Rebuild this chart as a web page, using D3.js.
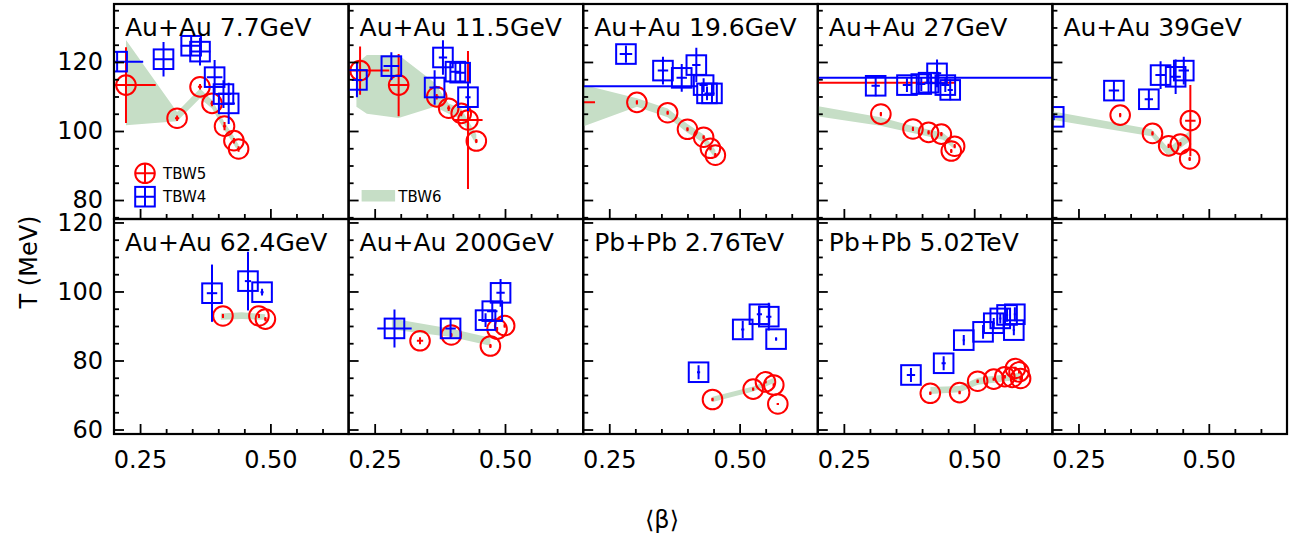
<!DOCTYPE html>
<html>
<head>
<meta charset="utf-8">
<script src="https://cdn.jsdelivr.net/npm/d3@7"></script>
<style>
body{margin:0;background:#fff}
text{font-family:"DejaVu Sans",sans-serif}
</style>
</head>
<body>
<div id="chart"></div>
<script>
// panel titles
var titles = ["Au+Au 7.7GeV","Au+Au 11.5GeV","Au+Au 19.6GeV","Au+Au 27GeV","Au+Au 39GeV",
              "Au+Au 62.4GeV","Au+Au 200GeV","Pb+Pb 2.76TeV","Pb+Pb 5.02TeV",""];

// TBW5 (red circles)
var tbw5Beta = [
  [0.223,0.321,0.365,0.388,0.412,0.430,0.439],
  [0.222,0.296,0.369,0.392,0.416,0.429,0.445],
  [0.10,0.303,0.362,0.400,0.431,0.444,0.4535],
  [0.10,0.321,0.3825,0.4125,0.437,0.456,0.4625],
  [0.330,0.392,0.423,0.4454,0.4633,0.4646],
  [0.409,0.478,0.4904],
  [0.337,0.397,0.472,0.4848,0.4994],
  [0.448,0.526,0.5496,0.5656,0.5733],
  [0.4158,0.472,0.5066,0.5375,0.5587,0.573,0.579,0.586,0.589],
  []
];
var tbw5T = [
  [113.3,103.7,112.8,108.0,101.4,97.2,94.8],
  [117.5,113.3,109.9,106.6,105.1,103.2,97.1],
  [108.3,108.3,105.3,100.5,98.2,95.0,93.0],
  [114.0,104.9,100.6,99.6,99.1,94.2,95.6],
  [104.6,99.3,95.7,96.2,91.9,103.0],
  [92.9,92.9,92.0],
  [85.7,87.4,84.2,89.1,90.1],
  [68.7,71.7,73.8,72.9,67.4],
  [70.5,70.7,74.0,74.6,75.3,75.1,77.7,76.7,74.8],
  []
];
var tbw5Xerr = [
  [0.057,0.004,0.004,0.003,0.003,0.003,0.003],
  [0.056,0.02,0.004,0.003,0.003,0.028,0.002],
  [0.1227,0.002,0.002,0.002,0.002,0.002,0.002],
  [0.364,0.002,0.002,0.002,0.002,0.002,0.002],
  [0.002,0.002,0.002,0.002,0.002,0.01],
  [0.002,0.002,0.002],
  [0.006,0.002,0.002,0.002,0.002],
  [0.002,0.002,0.002,0.002,0.002],
  [0.002,0.002,0.002,0.002,0.002,0.002,0.002,0.002,0.002],
  []
];
var tbw5Yerr = [
  [11,0.8,0.8,0.8,1.2,0.8,0.8],
  [7,9,0.8,0.8,0.8,20,0.6],
  [0,0.6,0.6,0.6,0.6,0.6,0.6],
  [0,0.6,0.6,0.6,0.6,0.6,0.6],
  [0.6,0.6,0.6,0.6,0.6,10.3],
  [0.6,0.6,0.6],
  [1,0.6,0.6,0.6,0.6],
  [0.5,0.5,0.5,0.5,0.3],
  [0.5,0.5,0.5,0.5,0.5,0.5,0.5,0.5,0.5],
  []
];

// TBW4 (blue squares)
var tbw4Beta = [
  [0.206,0.295,0.348,0.365,0.393,0.410,0.420],
  [0.216,0.282,0.381,0.365,0.405,0.414,0.429],
  [0.10,0.282,0.353,0.389,0.417,0.431,0.4375,0.447],
  [0.10,0.311,0.371,0.3985,0.4125,0.4287,0.4446,0.454],
  [0.2026,0.318,0.385,0.4075,0.4364,0.452],
  [0.388,0.457,0.484],
  [0.288,0.3956,0.4627,0.4756,0.4915],
  [0.4213,0.506,0.538,0.556,0.570],
  [0.3787,0.4414,0.48,0.517,0.5375,0.550,0.563,0.578,0.576],
  []
];
var tbw4T = [
  [120.1,120.8,124.7,123.0,115.6,110.7,108.0],
  [114.8,118.8,121.3,112.6,117.2,116.9,109.8],
  [113.0,122.3,117.5,115.4,119.1,113.3,110.9,110.9],
  [115.4,113.1,113.3,113.6,114.0,116.7,113.3,111.9],
  [104.1,111.7,109.2,116.2,115.7,117.5],
  [99.5,103.0,99.8],
  [89.3,89.3,91.7,94.3,99.6],
  [76.6,89.0,93.4,92.7,86.2],
  [75.8,79.2,85.9,88.3,90.8,92.2,93.2,93.4,88.8],
  []
];
var tbw4Xerr = [
  [0.05,0.02,0.02,0.02,0.015,0.015,0.012],
  [0.01,0.015,0.008,0.01,0.01,0.01,0.005],
  [0.32,0.012,0.01,0.01,0.008,0.008,0.005,0.005],
  [0.6,0.008,0.008,0.008,0.008,0.008,0.008,0.005],
  [0.018,0.01,0.008,0.01,0.01,0.01],
  [0.01,0.006,0.003],
  [0.033,0.01,0.014,0.01,0.008],
  [0.003,0.003,0.005,0.005,0.002],
  [0.008,0.004,0.002,0.002,0.002,0.002,0.002,0.002,0.002],
  []
];
var tbw4Yerr = [
  [3,5,3,4,5,4,6],
  [5,4,5,5,3,3,4],
  [0,2.5,4,4,5,2,2,3],
  [0,3,2,2,3,4,2,3],
  [1,3,3,4,5,4],
  [8.3,8.5,1],
  [5.5,3,2,3,4],
  [2,2.5,2.5,4,0.5],
  [2,2,1.5,2,1.5,1.5,2,2,1.5],
  []
];

// TBW6 (green band)
var tbw6Beta = [
  [0.223,0.321,0.365,0.388,0.412,0.430,0.439],
  [0.215,0.235,0.296,0.365,0.392,0.416,0.445],
  [0.19,0.303,0.362,0.400,0.431,0.4535],
  [0.19,0.32,0.38,0.44,0.46],
  [0.19,0.39,0.423,0.463],
  [0.405,0.445,0.49],
  [0.283,0.397,0.472],
  [0.448,0.526,0.566],
  [0.416,0.472,0.507,0.589],
  []
];
var tbw6Lo = [
  [101.7,102.8,109.5,106.5,100.2,96.0,93.8],
  [107,105,103.8,107,105,103.5,96],
  [100.8,107,104,99.5,96.5,92],
  [104.5,101.5,99.5,97.5,95],
  [103.5,98.5,92.5,97],
  [91.8,92.0,91.8],
  [89.0,86.8,84.3],
  [68,71,73.5],
  [70.3,70.8,73,74.5],
  []
];
var tbw6Hi = [
  [126.4,105.5,112.3,109.0,102.5,98.4,96.0],
  [119.5,122,122,114,108,106.5,99],
  [113.8,109.5,106.5,102,99,94.5],
  [107.5,104,101.5,99.5,97],
  [106,100.5,95,100],
  [93.6,94.0,93.4],
  [92.2,89.2,86.6],
  [69.5,72.5,75],
  [72.3,72.6,75,76.5],
  []
];

var xTicks = [0.25, 0.50];
var yTicksTop = [80, 100, 120];
var yTicksBottom = [60, 80, 100, 120];

var width = 1294, height = 537;
var left = 114, top0 = 4, pw = 234.6, ph = 215;
var red = "#ff0000", blue = "#0000ff", green = "#c6dec6";
var r = 9.8;

var svg = d3.select("#chart").append("svg")
  .attr("width", width)
  .attr("height", height);

var x = d3.scaleLinear().domain([0.2, 0.65]).range([0, pw]);
var yTop = d3.scaleLinear().domain([74.5, 136.8]).range([ph, 0]);
var yBot = d3.scaleLinear().domain([58.7, 121.0]).range([ph, 0]);

function drawSeries(g, y, bx, ty, ex, ey, color, shape) {
  var pts = d3.range(bx.length).map(function(k){
    return {b: bx[k], t: ty[k], ex: ex[k], ey: ey[k]};
  });
  var s = g.append("g").attr("stroke", color).attr("stroke-width", 2).attr("fill", "none");
  s.selectAll(".ex").data(pts).enter().append("line")
    .attr("x1", function(d){ return x(d.b - d.ex); })
    .attr("x2", function(d){ return x(d.b + d.ex); })
    .attr("y1", function(d){ return y(d.t); })
    .attr("y2", function(d){ return y(d.t); });
  s.selectAll(".ey").data(pts.filter(function(d){ return d.ey > 0; })).enter().append("line")
    .attr("x1", function(d){ return x(d.b); })
    .attr("x2", function(d){ return x(d.b); })
    .attr("y1", function(d){ return y(d.t - d.ey); })
    .attr("y2", function(d){ return y(d.t + d.ey); });
  if (shape == "circle") {
    s.selectAll("circle").data(pts).enter().append("circle")
      .attr("cx", function(d){ return x(d.b); })
      .attr("cy", function(d){ return y(d.t); })
      .attr("r", r);
  } else {
    s.selectAll("rect").data(pts).enter().append("rect")
      .attr("x", function(d){ return x(d.b) - r; })
      .attr("y", function(d){ return y(d.t) - r; })
      .attr("width", 2 * r)
      .attr("height", 2 * r);
  }
}

titles.forEach(function(t, i){
  var row = Math.floor(i / 5), col = i % 5;
  var y = row == 0 ? yTop : yBot;
  var g = svg.append("g")
    .attr("transform", "translate(" + (left + col * pw) + "," + (top0 + row * ph) + ")");

  g.append("clipPath").attr("id", "clip" + i)
    .append("rect").attr("width", pw).attr("height", ph);
  var plot = g.append("g").attr("clip-path", "url(#clip" + i + ")");

  if (tbw6Beta[i].length) {
    var area = d3.area()
      .x(function(d){ return x(d[0]); })
      .y0(function(d){ return y(d[1]); })
      .y1(function(d){ return y(d[2]); });
    plot.append("path")
      .datum(d3.zip(tbw6Beta[i], tbw6Lo[i], tbw6Hi[i]))
      .attr("d", area)
      .attr("fill", green);
  }

  drawSeries(plot, y, tbw5Beta[i], tbw5T[i], tbw5Xerr[i], tbw5Yerr[i], red, "circle");
  drawSeries(plot, y, tbw4Beta[i], tbw4T[i], tbw4Xerr[i], tbw4Yerr[i], blue, "square");

  // x axis (ticks pointing in)
  var xa = d3.axisBottom(x).tickValues(xTicks).tickSizeInner(-10).tickSizeOuter(0)
    .tickPadding(17).tickFormat(row == 1 ? d3.format(".2f") : "");
  var xm = d3.axisBottom(x).tickValues(d3.range(0.3, 0.64, 0.05).filter(function(v){ return Math.abs(v - 0.5) > 0.01; }))
    .tickSizeInner(-5).tickSizeOuter(0).tickFormat("");
  g.append("g").attr("transform", "translate(0," + ph + ")").call(xa)
    .call(function(a){ a.select(".domain").remove(); a.selectAll("text").attr("font-size", 24).attr("fill", "#000").style("font-family", "DejaVu Sans"); });
  g.append("g").attr("transform", "translate(0," + ph + ")").call(xm)
    .call(function(a){ a.select(".domain").remove(); });

  // y axis
  var yt = row == 0 ? yTicksTop : yTicksBottom;
  var ya = d3.axisLeft(y).tickValues(yt).tickSizeInner(-10).tickSizeOuter(0)
    .tickPadding(11).tickFormat(col == 0 ? d3.format("d") : "");
  var minors = d3.range(Math.ceil(y.domain()[0] / 5) * 5, y.domain()[1], 5)
    .filter(function(v){ return v % 20 != 0; });
  var ym = d3.axisLeft(y).tickValues(minors).tickSizeInner(-5).tickSizeOuter(0).tickFormat("");
  g.append("g").call(ya)
    .call(function(a){ a.select(".domain").remove(); a.selectAll("text").attr("font-size", 24).attr("fill", "#000").style("font-family", "DejaVu Sans"); });
  g.append("g").call(ym)
    .call(function(a){ a.select(".domain").remove(); });
  g.selectAll(".tick line").attr("stroke", "#000").attr("stroke-width", 1.8);

  g.append("rect").attr("width", pw).attr("height", ph)
    .attr("fill", "none").attr("stroke", "#000").attr("stroke-width", 2.2);

  g.append("text").attr("x", 11).attr("y", 32).attr("font-size", 25).text(t);
});

// legends
var lg0 = svg.append("g").attr("transform", "translate(" + left + "," + top0 + ")");
lg0.append("circle").attr("cx", 31).attr("cy", 169.3).attr("r", r)
  .attr("fill", "none").attr("stroke", red).attr("stroke-width", 2);
lg0.append("path").attr("d", "M21,169.3H41M31,159.3V179.3").attr("stroke", red).attr("stroke-width", 2);
lg0.append("text").attr("x", 49).attr("y", 174.5).attr("font-size", 15).text("TBW5");
lg0.append("rect").attr("x", 31 - r).attr("y", 192.7 - r).attr("width", 2 * r).attr("height", 2 * r)
  .attr("fill", "none").attr("stroke", blue).attr("stroke-width", 2);
lg0.append("path").attr("d", "M21,192.7H41M31,182.7V202.7").attr("stroke", blue).attr("stroke-width", 2);
lg0.append("text").attr("x", 49).attr("y", 198).attr("font-size", 15).text("TBW4");

var lg1 = svg.append("g").attr("transform", "translate(" + (left + pw) + "," + top0 + ")");
lg1.append("rect").attr("x", 13).attr("y", 186).attr("width", 33.5).attr("height", 11.5).attr("fill", green);
lg1.append("text").attr("x", 49.7).attr("y", 197.5).attr("font-size", 15).text("TBW6");

// axis titles
svg.append("text").attr("transform", "translate(37,262) rotate(-90)")
  .attr("text-anchor", "middle").attr("font-size", 24).text("T (MeV)");
svg.append("text").attr("x", 662).attr("y", 528)
  .attr("text-anchor", "middle").attr("font-size", 24).text("\u27e8\u03b2\u27e9");
</script>
</body>
</html>
